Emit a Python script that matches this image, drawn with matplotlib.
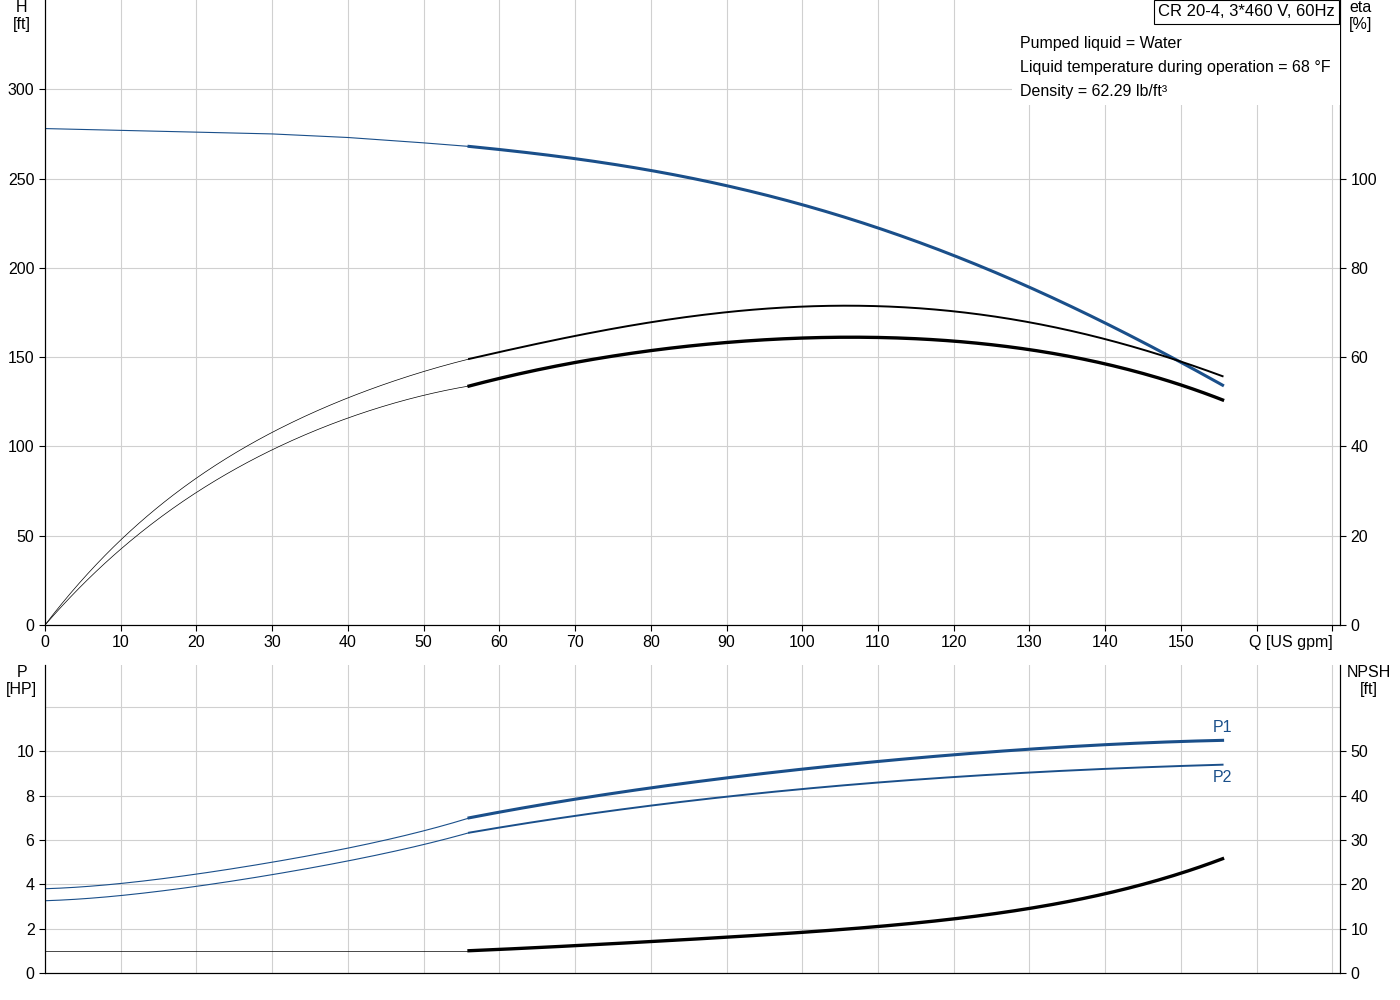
import matplotlib
matplotlib.use("Agg")
import matplotlib.pyplot as plt
import numpy as np
from matplotlib.patches import Rectangle

plt.rcParams['font.family'] = ['Liberation Sans', 'DejaVu Sans']

q_thin = [0, 10, 20, 30, 40, 50, 56]
q_thick = [56, 70, 80, 90, 100, 110, 120, 130, 140, 150, 155.5]
h_thin = [278, 277, 276, 275, 273, 270, 268]
h_thick = [268, 261, 255, 246, 235, 222, 207, 190, 169, 146, 135]
eta1_thin = [0, 19, 33, 43, 51, 56.7, 59.6]
eta1_thick = [59.6, 64.7, 67.9, 70.1, 71.2, 71.4, 70.3, 67.9, 64, 58.9, 55.8]
eta2_thin = [0, 16.8, 30, 39, 46.4, 51.5, 53.5]
eta2_thick = [53.5, 58.9, 61.4, 63.2, 64.3, 64.5, 63.6, 61.6, 58.5, 53.8, 50.4]
p1_thin = [3.8, 4.05, 4.45, 5.0, 5.65, 6.4, 7.0]
p1_thick = [7.0, 7.85, 8.35, 8.8, 9.2, 9.55, 9.85, 10.1, 10.3, 10.45, 10.5]
p2_thin = [3.26, 3.5, 3.9, 4.45, 5.05, 5.8, 6.33]
p2_thick = [6.33, 7.1, 7.55, 7.95, 8.3, 8.6, 8.85, 9.05, 9.2, 9.35, 9.4]
npsh_thin = [5, 5, 5, 5, 5, 5, 5]
npsh_thick = [5, 6.2, 7.2, 8, 9, 10.5, 12.4, 14.7, 17.6, 22.6, 25.8]

blue = '#1a4f8a'
grid_c = '#d0d0d0'
fs = 11.5

def smooth(x, y):
    xs = np.linspace(x[0], x[-1], 200)
    c = np.polyfit(x, y, min(4, len(x) - 1))
    return xs, np.polyval(c, xs)

fig = plt.figure(figsize=(14, 10), dpi=100)
ax = fig.add_axes([0.0321, 0.375, 0.925, 0.625])
bx = fig.add_axes([0.0321, 0.027, 0.925, 0.308])

for a in (ax, bx):
    a.set_xlim(0, 171)
    a.set_xticks(range(0, 171, 10))
    a.grid(True, color=grid_c, lw=0.8)
    a.spines['top'].set_visible(False)
    a.tick_params(labelsize=fs, length=4)

ax.set_ylim(0, 350)
ax.set_yticks(range(0, 301, 50))
ax.set_xticklabels([str(v) for v in range(0, 151, 10)] + ['', ''])
ax.annotate('Q [US gpm]', xy=(170, 0), xytext=(0, -7.5), textcoords='offset points',
            fontsize=fs, va='top', ha='right')
ax2 = ax.twinx()
ax2.set_ylim(0, 140)
ax2.set_yticks(range(0, 101, 20))
ax2.tick_params(labelsize=fs, length=4)
ax2.spines['top'].set_visible(False)

ax.plot(q_thin, h_thin, color=blue, lw=0.8)
ax.plot(*smooth(q_thick, h_thick), color=blue, lw=2.2)
ax2.plot(*smooth(q_thin, eta1_thin), color='black', lw=0.5)
ax2.plot(*smooth(q_thick, eta1_thick), color='black', lw=1.4)
ax2.plot(*smooth(q_thin, eta2_thin), color='black', lw=0.5)
ax2.plot(*smooth(q_thick, eta2_thick), color='black', lw=2.4)

ax.text(-0.018, 1.0, 'H\n[ft]', transform=ax.transAxes, ha='center', va='top', fontsize=fs)
ax2.text(1.016, 1.0, 'eta\n[%]', transform=ax2.transAxes, ha='center', va='top', fontsize=fs)

ax2.add_patch(Rectangle((0.747, 0.832), 0.253, 0.17, transform=ax2.transAxes,
                        facecolor='white', edgecolor='none', zorder=5))
ax2.text(0.996, 0.993, 'CR 20-4, 3*460 V, 60Hz', transform=ax2.transAxes, ha='right', va='top',
         fontsize=fs + 0.5, zorder=6, bbox=dict(facecolor='white', edgecolor='black', lw=0.8, pad=3))
for i, t in enumerate(['Pumped liquid = Water', 'Liquid temperature during operation = 68 °F',
                       'Density = 62.29 lb/ft³']):
    ax2.text(0.753, 0.93 - i * 0.0385, t, transform=ax2.transAxes, ha='left', va='center',
             fontsize=fs, zorder=6)

bx.set_ylim(0, 13.9)
bx.set_yticks(range(0, 11, 2))
bx.set_yticks([12], minor=True)
bx.grid(True, which='minor', color=grid_c, lw=0.8)
bx.tick_params(which='minor', length=0)
bx.set_xticklabels([])
bx.tick_params(axis='x', length=0)
bx2 = bx.twinx()
bx2.set_ylim(0, 69.5)
bx2.set_yticks(range(0, 51, 10))
bx2.tick_params(labelsize=fs, length=4)
bx2.spines['top'].set_visible(False)

bx.plot(*smooth(q_thin, p1_thin), color=blue, lw=0.8)
bx.plot(*smooth(q_thick, p1_thick), color=blue, lw=2.2)
bx.plot(*smooth(q_thin, p2_thin), color=blue, lw=0.8)
bx.plot(*smooth(q_thick, p2_thick), color=blue, lw=1.4)
bx2.plot(q_thin, npsh_thin, color='black', lw=0.5)
bx2.plot(*smooth(q_thick, npsh_thick), color='black', lw=2.4)
bx.text(155.5, p1_thick[-1] + 0.25, 'P1', color=blue, fontsize=fs, ha='center', va='bottom')
bx.text(155.5, p2_thick[-1] - 0.25, 'P2', color=blue, fontsize=fs, ha='center', va='top')

bx.text(-0.018, 1.0, 'P\n[HP]', transform=bx.transAxes, ha='center', va='top', fontsize=fs)
bx2.text(1.022, 1.0, 'NPSH\n[ft]', transform=bx2.transAxes, ha='center', va='top', fontsize=fs)

fig.savefig('out.png', dpi=100)
